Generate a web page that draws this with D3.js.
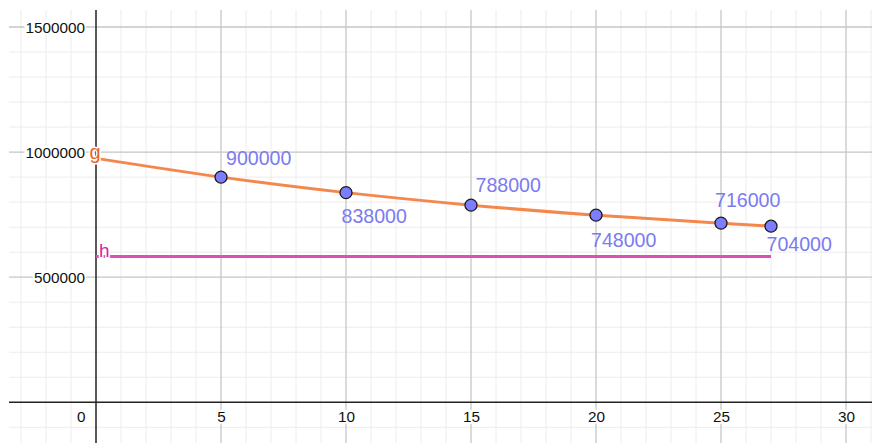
<!DOCTYPE html>
<html>
<head>
<meta charset="utf-8">
<script src="https://cdn.jsdelivr.net/npm/d3@7"></script>
<style>
  html, body { margin: 0; padding: 0; background: #fff; }
  svg { display: block; font-family: "Liberation Sans", Arial, Helvetica, sans-serif; }
</style>
</head>
<body>
<svg id="chart" width="872" height="443"></svg>
<script>
// ---- data ----
const xTicks = [0, 5, 10, 15, 20, 25, 30];
const yTicks = [500000, 1000000, 1500000];
const pointX = [5, 10, 15, 20, 25, 27];
const pointY = [900000, 838000, 788000, 748000, 716000, 704000];
const pointLabels = ["900000", "838000", "788000", "748000", "716000", "704000"];
const curveX = [0, 5, 10, 15, 20, 25, 27];
const curveY = [975000, 900000, 838000, 788000, 748000, 716000, 704000];
const hX = [0, 27];
const hY = [583000, 583000];

// ---- layout ----
const W = 872, H = 443;
const svg = d3.select("#chart");
const x = d3.scaleLinear().domain([0, 30]).range([96, 846]);
const y = d3.scaleLinear().domain([0, 1500000]).range([402.3, 27]);
const gridLeft = 9, gridTop = 10;

const xMin = x.invert(gridLeft), xMax = x.invert(W);
const yMin = y.invert(H), yMax = y.invert(gridTop);

// minor grid
const minorX = d3.range(Math.ceil(xMin), Math.floor(xMax) + 1, 1).filter(v => v % 5 !== 0);
const minorY = d3.range(Math.ceil(yMin / 100000) * 100000, yMax, 100000).filter(v => v % 500000 !== 0);
const majorX = d3.range(Math.ceil(xMin / 5) * 5, xMax + 0.001, 5).filter(v => v !== 0);
const majorY = d3.range(Math.ceil(yMin / 500000) * 500000, yMax, 500000).filter(v => v !== 0);

const grid = svg.append("g");
grid.selectAll(".mx").data(minorX).join("line")
  .attr("x1", d => x(d)).attr("x2", d => x(d)).attr("y1", gridTop).attr("y2", H)
  .attr("stroke", "#ececec").attr("stroke-width", 1);
grid.selectAll(".my").data(minorY).join("line")
  .attr("y1", d => y(d)).attr("y2", d => y(d)).attr("x1", gridLeft).attr("x2", W)
  .attr("stroke", "#ececec").attr("stroke-width", 1);
grid.selectAll(".Mx").data(majorX).join("line")
  .attr("x1", d => x(d)).attr("x2", d => x(d)).attr("y1", gridTop).attr("y2", H)
  .attr("stroke", "#c6c6c6").attr("stroke-width", 1.3);
grid.selectAll(".My").data(majorY).join("line")
  .attr("y1", d => y(d)).attr("y2", d => y(d)).attr("x1", gridLeft).attr("x2", W)
  .attr("stroke", "#c6c6c6").attr("stroke-width", 1.3);

// axes
svg.append("line").attr("x1", gridLeft).attr("x2", W).attr("y1", y(0)).attr("y2", y(0))
  .attr("stroke", "#222").attr("stroke-width", 1.5);
svg.append("line").attr("x1", x(0)).attr("x2", x(0)).attr("y1", gridTop).attr("y2", H)
  .attr("stroke", "#222").attr("stroke-width", 1.5);

// tick labels with white background
function bgText(sel, txt, tx, ty, anchor, size, color) {
  const g = sel.append("g");
  const t = g.append("text").attr("x", tx).attr("y", ty).attr("text-anchor", anchor)
    .attr("font-size", size).attr("fill", color).text(txt);
  const bb = t.node().getBBox();
  g.insert("rect", "text").attr("x", bb.x - 1).attr("y", bb.y + 2).attr("width", bb.width + 2)
    .attr("height", bb.height - 3).attr("fill", "#fff");
  return g;
}
const tickLayer = svg.append("g");
yTicks.forEach(v => bgText(tickLayer, String(v), 85, y(v) + 5.5, "end", 15.3, "#111"));
xTicks.forEach(v => {
  if (v === 0) bgText(tickLayer, "0", 85.5, 421.7, "end", 15.3, "#111");
  else bgText(tickLayer, String(v), x(v) + 0.5, 421.7, "middle", 15.3, "#111");
});

// h line
svg.append("path")
  .attr("d", d3.line().x((d, i) => x(hX[i])).y((d, i) => y(hY[i]))(hX))
  .attr("fill", "none").attr("stroke", "#e24db5").attr("stroke-width", 3);

// g curve
svg.append("path")
  .attr("d", d3.line().x((d, i) => x(curveX[i])).y((d, i) => y(curveY[i])).curve(d3.curveNatural)(curveX))
  .attr("fill", "none").attr("stroke", "#f4874c").attr("stroke-width", 3);

// object labels g and h with white halo
svg.append("text").attr("x", 89.5).attr("y", 159).attr("font-size", 20).attr("fill", "#e8642a")
  .attr("stroke", "#fff").attr("stroke-width", 3).attr("paint-order", "stroke").text("g");
svg.append("text").attr("x", 99).attr("y", 257).attr("font-size", 19).attr("fill", "#d8249e")
  .attr("stroke", "#fff").attr("stroke-width", 3).attr("paint-order", "stroke").text("h");

// points
svg.selectAll(".pt").data(pointX).join("circle")
  .attr("cx", d => x(d)).attr("cy", (d, i) => y(pointY[i])).attr("r", 6)
  .attr("fill", "#7d7dff").attr("stroke", "#1a1a1a").attr("stroke-width", 1.3);

// point labels (placement offsets)
const labelOffsets = [[5, -12.5], [-4.5, 30.5], [4.5, -13.5], [-5, 31.5], [-6, -16.5], [-4.5, 24.5]];
svg.selectAll(".pl").data(pointX).join("text")
  .attr("x", (d, i) => x(d) + labelOffsets[i][0])
  .attr("y", (d, i) => y(pointY[i]) + labelOffsets[i][1])
  .attr("font-size", 19.6).attr("fill", "#7b7bef")
  .text((d, i) => pointLabels[i]);
</script>
</body>
</html>
